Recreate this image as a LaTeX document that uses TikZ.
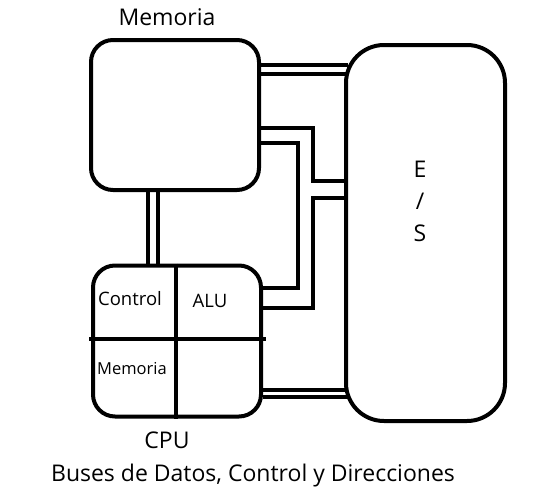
\documentclass[tikz,border=0pt]{standalone}
\usepackage{fontspec}
\setmainfont{Open Sans}
\usetikzlibrary{positioning}

\tikzset{
  block/.style={draw, line width=4pt, rounded corners=22pt, inner sep=0pt},
  bus/.style={line width=4pt},
  title/.style={font=\fontsize{23}{32}\selectfont, inner sep=0pt},
  cell/.style={font=\fontsize{18.5}{22}\selectfont, inner sep=0pt},
}

\begin{document}
\begin{tikzpicture}[x=1pt, y=-1pt]
    \useasboundingbox (0,0) rectangle (538,501);
    \node[block, minimum width=168pt, minimum height=150pt] (mem) at (175,115){};
    \node[block, minimum width=168pt, minimum height=151pt] (cpu) at (177,341){};
    \node[block, rounded corners=38pt, minimum width=159pt, minimum height=376pt] (es) at (425.5,233){};
    \node[title] (memname) at (167,17){Memoria};
    \node[title] (cpuname) at (167,440){CPU};
    \node[title] (buses) at (253,476){Buses de Datos, Control y Direcciones};
    \node[title, align=center] (esname) at (420,201){E\\/\\S};
    \node[cell] (control) at (130,299){Control};
    \node[cell] (alu) at (210,301){ALU};
    \node[cell, font=\fontsize{16.5}{20}\selectfont] (cpumem) at (132,369){Memoria};
    % divisiones de la CPU
    \draw[bus] (cpu.north -| 176,0) -- (cpu.south -| 176,0);
    \draw[bus] ([xshift=-2pt]cpu.west |- 0,339) -- ([xshift=3pt]cpu.east |- 0,339);
    % bus memoria - CPU
    \draw[bus] (mem.south -| 148,0) -- (cpu.north -| 148,0);
    \draw[bus] (mem.south -| 158,0) -- (cpu.north -| 158,0);
    % bus memoria - E/S
    \draw[bus] (mem.east |- 0,65) -- ([xshift=4pt]es.west |- 0,65);
    \draw[bus] (mem.east |- 0,74) -- ([xshift=2pt]es.west |- 0,74);
    % buses del centro
    \draw[bus] (mem.east |- 0,128) -| (313,181) -- (es.west |- 0,181);
    \draw[bus] (mem.east |- 0,143) -| (298,288) -- (cpu.east |- 0,288);
    \draw[bus] (es.west |- 0,198) -| (313,308) -- (cpu.east |- 0,308);
    % bus CPU - E/S
    \draw[bus] (cpu.east |- 0,390) -- ([xshift=2pt]es.west |- 0,390);
    \draw[bus] (cpu.east |- 0,397) -- ([xshift=3pt]es.west |- 0,397);
\end{tikzpicture}
\end{document}
